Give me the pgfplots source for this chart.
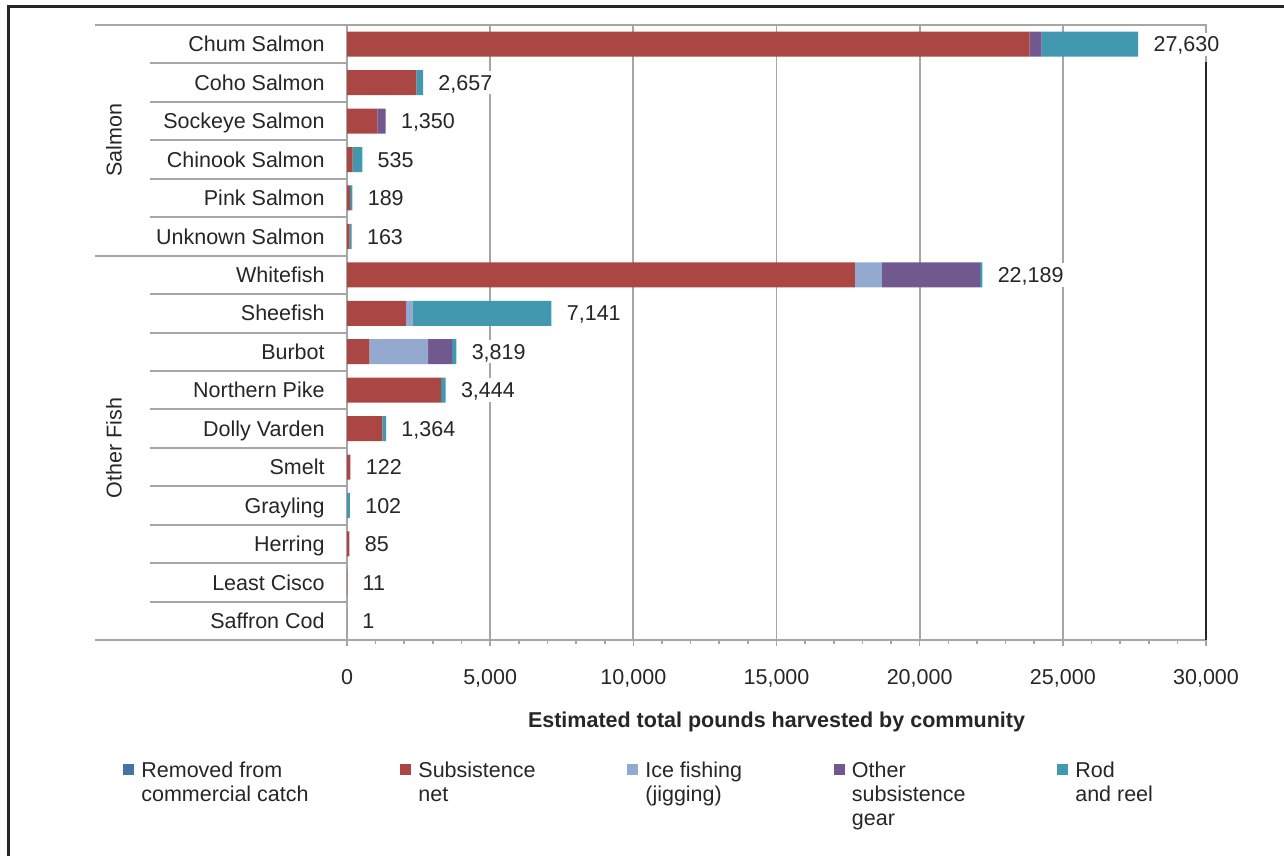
\documentclass[border=0pt]{standalone}
\usepackage{fontspec}
\setmainfont{Liberation Sans}
\usepackage{pgfplots}
\usepackage{pgfplotstable}
\pgfplotsset{compat=1.18}
\definecolor{cRem}{HTML}{4572A7}
\definecolor{cNet}{HTML}{AA4643}
\definecolor{cIce}{HTML}{93A9CF}
\definecolor{cOth}{HTML}{71588F}
\definecolor{cRod}{HTML}{4198AF}
\definecolor{cGrid}{HTML}{A6A6A6}
\definecolor{cTxt}{HTML}{262626}
\newcommand\f{\fontsize{10.75bp}{12bp}\selectfont}

\pgfplotstableread{
idx removed net ice other rod total
0  0 23840 0    420  3370 27630
1  0 2420  0    0    237  2657
2  0 1060  0    290  0    1350
3  0 200   0    0    335  535
4  0 110   0    0    79   189
5  0 90    0    0    73   163
6  0 17733 943  3433 80   22189
7  0 2060  220  0    4861 7141
8  0 780   2050 838  151  3819
9  0 3283  0    0    161  3444
10 0 1234  0    0    130  1364
11 0 122   0    0    0    122
12 0 0     0    0    102  102
13 0 85    0    0    0    85
14 0 11    0    0    0    11
15 0 1     0    0    0    1
}\fish

\begin{document}
\begin{tikzpicture}
\path[use as bounding box] (0,0) rectangle (642bp,-428bp);
% frame
\draw[line width=1.5bp, black!85] (4bp,-428bp) -- (4bp,-3.25bp) -- (642bp,-3.25bp);
% category separators
\foreach \k in {1,2,3,4,5,7,8,9,10,11,12,13,14,15}
  \draw[cGrid, line width=1bp] (75bp,{-(12.5+19.21875*\k)*1bp}) -- (173.5bp,{-(12.5+19.21875*\k)*1bp});
\foreach \k in {0,6,16}
  \draw[cGrid, line width=1bp] (47.5bp,{-(12.5+19.21875*\k)*1bp}) -- (173.5bp,{-(12.5+19.21875*\k)*1bp});
% group labels
\node[rotate=90, font=\f, text=cTxt, text height=7.7bp, text depth=0pt, inner sep=0pt] at (57bp,-70bp) {Salmon};
\node[rotate=90, font=\f, text=cTxt, text height=7.7bp, text depth=0pt, inner sep=0pt] at (57bp,-224bp) {Other Fish};

\begin{axis}[
  at={(173.5bp,-320bp)}, anchor=south west,
  scale only axis, width=429.5bp, height=307.5bp,
  xbar stacked, bar width=0.65, y dir=reverse,
  xmin=0, xmax=30000, ymin=-0.5, ymax=15.5,
  xtick={0,5000,...,30000}, minor x tick num=4,
  xtick pos=left, xtick align=outside,
  major tick length=3bp, minor tick length=2bp,
  ytick={0,...,15},
  yticklabels={Chum Salmon,Coho Salmon,Sockeye Salmon,Chinook Salmon,Pink Salmon,Unknown Salmon,Whitefish,Sheefish,Burbot,Northern Pike,Dolly Varden,Smelt,Grayling,Herring,Least Cisco,Saffron Cod},
  ytick style={draw=none},
  xmajorgrids, major x grid style={cGrid, line width=0.9bp},
  axis line style={cGrid, line width=1bp},
  x tick style={cGrid, line width=0.8bp},
  tick label style={font=\f, text=cTxt},
  yticklabel style={anchor=east, text height=7.7bp, text depth=0pt, inner sep=0pt, xshift=-11bp},
  xticklabel style={anchor=base, yshift=-19bp},
  scaled x ticks=false,
  /pgf/number format/1000 sep={,},
  /pgf/number format/assume math mode=true,
  xlabel={Estimated total pounds harvested by community},
  xlabel style={font=\f\bfseries, text=cTxt, at={(0.5,-0.1333)}, anchor=center},
  legend columns=5,
  legend style={at={(-0.2608,-0.172)}, anchor=north west, draw=none, fill=none,
    font=\f, text=cTxt, inner sep=0pt,
    nodes={inner sep=0pt},
    cells={anchor=north west, align=left},
    /tikz/every odd column/.append style={column sep=3.5bp},
    /tikz/every even column/.append style={column sep=45.9bp}},
  legend image code/.code={\path (0bp,7.9bp); \fill[#1] (0bp,-6.55bp) rectangle (5.5bp,-1.05bp);},
]
\addplot[fill=cRem, draw=none] table[x=removed, y=idx] {\fish};
\addlegendentry{Removed from\\commercial catch}
\addplot[fill=cNet, draw=none] table[x=net, y=idx] {\fish};
\addlegendentry{Subsistence\\net}
\addplot[fill=cIce, draw=none] table[x=ice, y=idx] {\fish};
\addlegendentry{Ice fishing\\(jigging)}
\addplot[fill=cOth, draw=none] table[x=other, y=idx] {\fish};
\addlegendentry{Other\\subsistence\\gear}
\addplot[fill=cRod, draw=none] table[x=rod, y=idx] {\fish};
\addlegendentry{Rod\\and reel}
\end{axis}

\draw[line width=1.2bp, black!85] (603bp,-31bp) -- (603bp,-320bp);

\begin{axis}[
  at={(173.5bp,-320bp)}, anchor=south west,
  scale only axis, width=429.5bp, height=307.5bp,
  xmin=0, xmax=30000, ymin=-0.5, ymax=15.5, y dir=reverse,
  hide axis, clip=false,
]
\addplot[only marks, mark=none, point meta=explicit,
  nodes near coords={\pgfmathprintnumber[fixed, precision=0, 1000 sep={,}, assume math mode=true]{\pgfplotspointmeta}},
  nodes near coords style={anchor=west, font=\f, text=cTxt, fill=white,
    inner xsep=2bp, inner ysep=2bp, text height=7.7bp, text depth=0pt, xshift=5.5bp}]
  table[x=total, y=idx, meta=total] {\fish};
\end{axis}
\end{tikzpicture}
\end{document}
